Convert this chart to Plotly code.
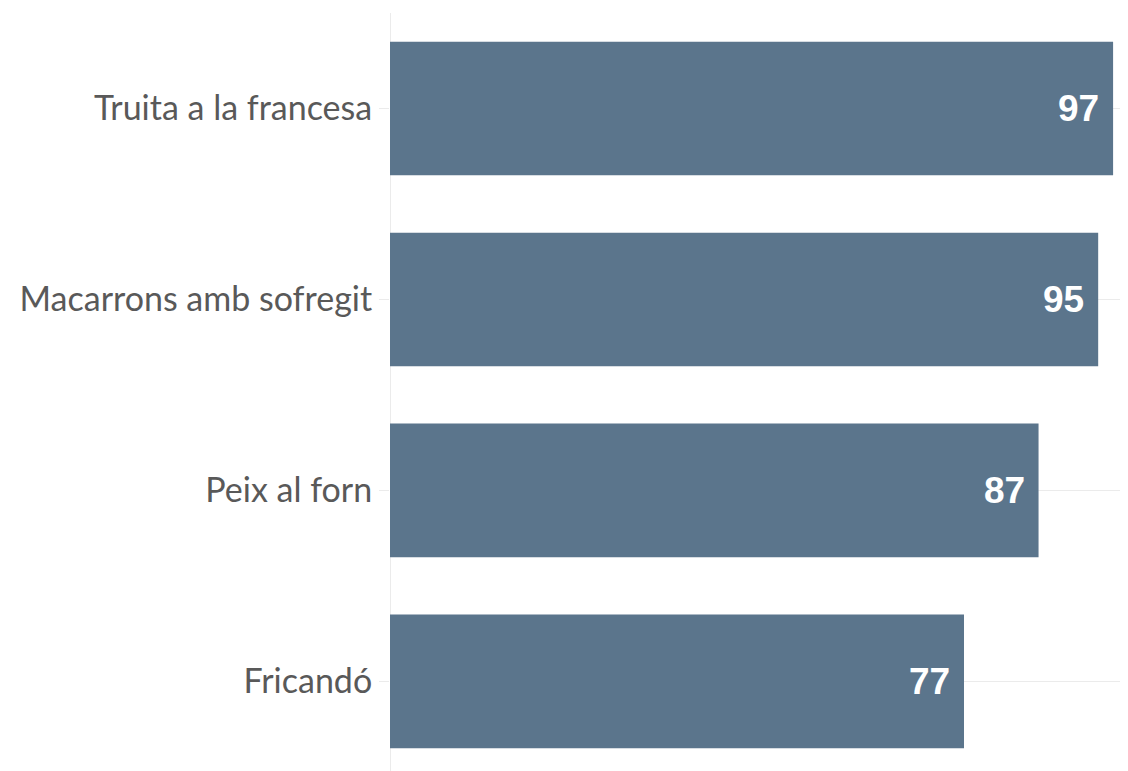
import plotly.graph_objects as go

categories = ["Truita a la francesa", "Macarrons amb sofregit", "Peix al forn", "Fricandó"]
values = [97, 95, 87, 77]
value_labels = [str(v) for v in values]

fig = go.Figure(go.Bar(
    x=values,
    y=categories,
    orientation="h",
    marker=dict(color="#5b758c", line=dict(width=0)),
    hoverinfo="skip",
))

for cat, v, lab in zip(categories, values, value_labels):
    fig.add_annotation(
        x=v, y=cat, xref="x", yref="y",
        text=lab, showarrow=False,
        xanchor="right", yanchor="middle", xshift=-12,
        font=dict(family="Liberation Sans, Arial", size=37, color="white", weight="bold"),
    )

fig.update_layout(
    width=1120,
    height=763,
    margin=dict(l=382, r=0, t=5, b=0),
    paper_bgcolor="white",
    plot_bgcolor="white",
    bargap=0.3,
    showlegend=False,
    xaxis=dict(
        range=[0, 99],
        showgrid=False,
        showticklabels=False,
        zeroline=True,
        zerolinecolor="#ebebeb",
        zerolinewidth=1,
        fixedrange=True,
    ),
    yaxis=dict(
        range=[3.469, -0.5],
        showgrid=True,
        gridcolor="#ebebeb",
        gridwidth=1,
        ticks="outside",
        ticklen=10,
        tickcolor="#ebebeb",
        tickfont=dict(family="Lato, Noto Sans, sans-serif", size=34, color="#595959"),
        ticklabelstandoff=0,
        zeroline=False,
    ),
)

fig.write_html("out.html")
